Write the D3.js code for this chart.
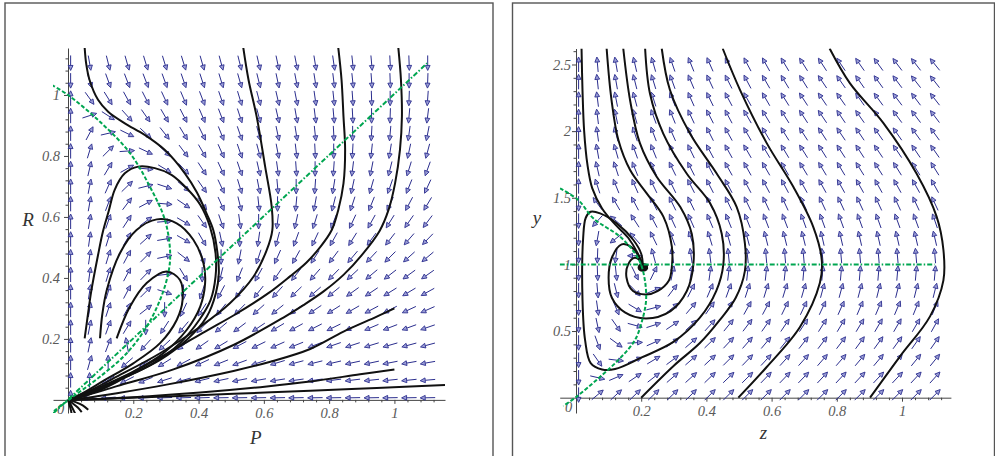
<!DOCTYPE html>
<html>
<head>
<meta charset="utf-8">
<script src="https://cdn.jsdelivr.net/npm/d3@7/dist/d3.min.js"></script>
<style>
  body { margin: 0; background: #fff; }
  text { font-family: "Liberation Serif", "DejaVu Serif", serif; font-style: italic; }
</style>
</head>
<body>
<div id="chart"></div>
<script>
// ---- left panel (P, R) ----
const prP = [0.008, 0.066, 0.123, 0.181, 0.238, 0.296, 0.354, 0.411, 0.469, 0.526,
             0.584, 0.642, 0.699, 0.757, 0.814, 0.872, 0.930, 0.987, 1.045, 1.102];
const prR = [1.105, 1.047, 0.989, 0.932, 0.874, 0.816, 0.758, 0.700, 0.643, 0.585,
             0.527, 0.469, 0.411, 0.354, 0.296, 0.238, 0.180, 0.122, 0.065, 0.007];
// arrow direction in degrees, one row per R value (top to bottom)
const prAngles = [
  [-90,-80,-76,-74,-73,-73,-73,-74,-75,-76,-77,-78,-79,-81,-82,-84,-85,-87,-88,-90],
  [-90,-73,-70,-69,-69,-70,-71,-72,-73,-74,-76,-78,-79,-81,-83,-84,-86,-88,-90,-92],
  [90,-54,-58,-61,-63,-65,-67,-69,-71,-73,-75,-77,-79,-82,-84,-86,-88,-90,-92,-94],
  [90,18,-33,-48,-55,-60,-63,-67,-69,-72,-75,-77,-80,-83,-85,-87,-90,-92,-95,-97],
  [90,62,13,-26,-43,-52,-59,-64,-68,-71,-75,-78,-81,-84,-87,-90,-93,-95,-98,-101],
  [90,73,45,4,-25,-43,-53,-60,-66,-71,-75,-79,-83,-87,-90,-93,-96,-99,-102,-105],
  [90,77,59,29,-5,-31,-47,-57,-65,-71,-77,-82,-86,-90,-94,-97,-101,-104,-107,-110],
  [90,79,66,44,14,-18,-40,-55,-65,-73,-79,-85,-90,-94,-99,-102,-106,-109,-112,-115],
  [90,80,69,53,28,-5,-34,-53,-66,-76,-84,-90,-95,-100,-104,-108,-112,-115,-118,-121],
  [90,81,71,57,37,5,-30,-55,-71,-82,-90,-97,-102,-107,-111,-115,-119,-122,-125,-127],
  [90,82,73,60,42,10,-30,-60,-78,-90,-98,-105,-110,-115,-119,-122,-126,-128,-131,-134],
  [90,82,73,62,45,12,-38,-72,-90,-101,-108,-114,-119,-123,-127,-130,-133,-135,-138,-140],
  [90,82,73,62,46,7,-59,-90,-104,-112,-119,-124,-128,-131,-134,-137,-140,-142,-144,-145],
  [90,81,73,62,45,-18,-90,-108,-118,-124,-128,-132,-136,-139,-141,-144,-146,-148,-149,-151],
  [90,81,72,61,38,-90,-115,-123,-129,-134,-138,-141,-144,-146,-148,-150,-152,-153,-155,-156],
  [90,79,70,59,-90,-123,-130,-135,-140,-143,-146,-149,-151,-153,-154,-156,-157,-159,-160,-161],
  [90,78,69,100,-132,-137,-142,-145,-149,-152,-154,-156,-158,-159,-161,-162,-163,-164,-165,-165],
  [90,74,90,-139,-144,-148,-152,-155,-158,-160,-162,-163,-165,-166,-167,-168,-168,-169,-170,-170],
  [90,90,-146,-153,-158,-162,-164,-166,-168,-169,-170,-171,-172,-172,-173,-173,-174,-174,-174,-175],
  [90,-171,-175,-176,-177,-178,-178,-178,-179,-179,-179,-179,-179,-179,-179,-179,-179,-179,-179,-179]
];
const prCurves = [
  [[0.051,1.155],[0.056,1.1],[0.066,1.049],[0.092,0.984],[0.123,0.945],[0.174,0.907],[0.235,0.869],[0.296,0.82],[0.358,0.743],[0.395,0.68],[0.425,0.61],[0.445,0.557],[0.458,0.481],[0.462,0.415],[0.453,0.35],[0.425,0.273],[0.364,0.197],[0.282,0.131],[0.18,0.076],[0.098,0.032],[0.04,0.01],[0,0]],
  [[0.051,0.202],[0.061,0.28],[0.071,0.355],[0.092,0.475],[0.107,0.552],[0.125,0.62],[0.143,0.689],[0.174,0.743],[0.215,0.765],[0.266,0.76],[0.317,0.738],[0.368,0.689],[0.405,0.64],[0.435,0.568],[0.452,0.481],[0.452,0.404],[0.437,0.328],[0.402,0.262],[0.343,0.186],[0.261,0.12],[0.159,0.066],[0.08,0.027],[0.03,0.008],[0,0]],
  [[0.098,0.202],[0.105,0.28],[0.119,0.361],[0.159,0.481],[0.21,0.557],[0.272,0.592],[0.333,0.579],[0.384,0.525],[0.415,0.448],[0.42,0.383],[0.405,0.306],[0.364,0.23],[0.292,0.153],[0.2,0.093],[0.098,0.042],[0.04,0.013],[0,0]],
  [[0.149,0.202],[0.19,0.306],[0.241,0.383],[0.302,0.421],[0.343,0.393],[0.351,0.328],[0.333,0.262],[0.282,0.186],[0.2,0.12],[0.108,0.062],[0.045,0.022],[0,0]],
  [[0.537,1.155],[0.553,1.05],[0.578,0.929],[0.604,0.765],[0.624,0.634],[0.626,0.557],[0.609,0.492],[0.568,0.404],[0.496,0.317],[0.405,0.24],[0.282,0.153],[0.149,0.076],[0.06,0.027],[0,0]],
  [[0.828,1.155],[0.838,1.05],[0.844,0.929],[0.849,0.82],[0.844,0.71],[0.828,0.623],[0.808,0.557],[0.772,0.5],[0.73,0.45],[0.68,0.405],[0.614,0.35],[0.512,0.28],[0.42,0.224],[0.3,0.15],[0.18,0.08],[0.09,0.035],[0.03,0.01],[0,0]],
  [[1.012,1.155],[1.02,1.05],[1.023,0.929],[1.017,0.82],[1.002,0.71],[0.982,0.623],[0.955,0.555],[0.9,0.475],[0.844,0.41],[0.782,0.355],[0.72,0.31],[0.66,0.27],[0.507,0.18],[0.323,0.1],[0.15,0.045],[0.05,0.013],[0,0]],
  [[1.0,0.3],[0.946,0.273],[0.844,0.224],[0.742,0.167],[0.62,0.125],[0.507,0.095],[0.302,0.05],[0.15,0.022],[0.05,0.006],[0,0]],
  [[1.0,0.1],[0.895,0.084],[0.742,0.06],[0.609,0.044],[0.405,0.024],[0.2,0.009],[0,0]],
  [[1.155,0.049],[0.946,0.039],[0.742,0.03],[0.507,0.02],[0.3,0.011],[0.1,0.003],[0,0]],
  [[0,0],[0.004,-0.015],[0.008,-0.03],[0.011,-0.045]],
  [[0,0],[0.008,-0.015],[0.015,-0.03],[0.022,-0.045]],
  [[0,0],[0.015,-0.012],[0.03,-0.025],[0.042,-0.04]],
  [[0,0],[0.025,-0.008],[0.045,-0.018],[0.062,-0.032]]
];
const prLine = [[-0.045,-0.044],[1.1,1.104]];
const prCurve = [[-0.05,1.033],[0,1.0],[0.098,0.912],[0.19,0.809],[0.251,0.699],[0.297,0.59],[0.313,0.481],[0.307,0.415],[0.282,0.328],[0.241,0.24],[0.18,0.153],[0.098,0.076],[0.016,0.011],[-0.045,-0.038]];
const prTicks = [0.2, 0.4, 0.6, 0.8, 1];

// ---- right panel (z, y) ----
const zyZ = [0.008, 0.066, 0.123, 0.181, 0.238, 0.296, 0.353, 0.411, 0.468, 0.526,
             0.583, 0.641, 0.698, 0.756, 0.813, 0.871, 0.928, 0.986, 1.043, 1.101];
const zyY = [2.5, 2.37, 2.239, 2.109, 1.978, 1.848, 1.717, 1.587, 1.456, 1.326,
             1.195, 1.065, 0.934, 0.804, 0.673, 0.543, 0.412, 0.282, 0.151, 0.021];
const zyAngles = [
  [90,95,100,103,106,109,112,114,116,118,119,121,122,123,124,125,126,127,128,129],
  [90,96,100,104,107,110,113,115,117,118,120,121,122,124,125,125,126,127,128,128],
  [90,97,101,105,108,111,114,116,118,119,120,122,123,124,125,125,126,127,127,128],
  [90,97,102,106,110,112,115,117,118,120,121,122,123,124,124,125,126,126,127,127],
  [90,98,104,108,111,114,116,117,119,120,121,122,123,123,124,124,125,125,126,126],
  [90,100,106,110,112,115,116,118,119,120,121,121,122,122,123,123,124,124,124,125],
  [90,103,108,112,114,116,117,118,119,119,120,120,121,121,121,122,122,122,122,122],
  [90,108,112,114,116,116,117,117,118,118,118,118,119,119,119,119,119,119,119,119],
  [-90,126,120,118,117,116,116,116,116,116,115,115,115,115,115,115,115,115,115,115],
  [-90,-132,140,123,118,115,114,113,112,112,111,111,110,110,110,110,110,110,110,109],
  [-90,-100,-142,132,116,110,108,107,106,105,104,104,104,103,103,103,103,103,103,103],
  [-90,-92,-98,180,105,99,98,97,96,96,95,95,95,95,95,95,95,95,95,95],
  [-90,-88,-84,-64,64,78,81,82,83,84,84,84,85,85,85,85,85,85,85,85],
  [-90,-85,-76,-46,23,53,63,67,70,72,73,73,74,75,75,75,76,76,76,76],
  [-90,-82,-67,-31,15,39,50,55,59,61,62,64,65,65,66,67,67,67,68,68],
  [-90,-78,-55,-15,18,34,43,48,51,53,55,56,57,58,59,59,60,60,60,61],
  [-90,-70,-36,3,24,35,41,44,47,49,50,51,52,53,53,54,54,54,55,55],
  [-90,-55,-7,20,31,37,41,43,45,46,47,48,48,49,49,50,50,50,51,51],
  [-90,-13,23,34,38,41,42,44,44,45,46,46,46,47,47,47,47,47,47,48],
  [-90,40,43,44,44,44,45,45,45,45,45,45,45,45,45,45,45,45,45,45]
];
const zyCurves = [
  [[0.205,0.99],[0.19,1.08],[0.16,1.2],[0.12,1.3],[0.08,1.42],[0.05,1.57],[0.035,1.75],[0.025,2.0],[0.02,2.3],[0.017,2.62]],
  [[0.205,0.99],[0.2,1.02],[0.18,1.05],[0.16,1.0],[0.155,0.9],[0.175,0.8],[0.215,0.775],[0.25,0.8],[0.285,0.88],[0.294,0.983],[0.294,1.133],[0.268,1.358],[0.217,1.533],[0.166,1.708],[0.13,1.933],[0.109,2.233],[0.094,2.62]],
  [[0.205,0.99],[0.195,1.05],[0.17,1.13],[0.14,1.15],[0.11,1.05],[0.1,0.9],[0.11,0.75],[0.15,0.64],[0.215,0.595],[0.29,0.65],[0.34,0.8],[0.36,1.0],[0.355,1.23],[0.32,1.43],[0.247,1.66],[0.196,1.91],[0.166,2.23],[0.145,2.62]],
  [[0.205,0.99],[0.2,1.08],[0.176,1.183],[0.125,1.308],[0.074,1.383],[0.045,1.395],[0.03,1.35],[0.022,1.2],[0.02,0.73],[0.028,0.43],[0.045,0.26],[0.08,0.212],[0.12,0.215],[0.2,0.3],[0.3,0.42],[0.38,0.6],[0.43,0.8],[0.452,1.0],[0.447,1.23],[0.411,1.46],[0.34,1.68],[0.268,1.98],[0.227,2.28],[0.212,2.62]],
  [[0.2,0.0],[0.3,0.24],[0.38,0.41],[0.44,0.58],[0.49,0.75],[0.518,0.95],[0.518,1.16],[0.493,1.43],[0.432,1.68],[0.35,1.98],[0.288,2.31],[0.263,2.62]],
  [[0.498,0.0],[0.585,0.23],[0.687,0.53],[0.748,0.86],[0.754,1.03],[0.728,1.28],[0.667,1.58],[0.585,1.91],[0.503,2.31],[0.45,2.62]],
  [[0.902,0.0],[0.994,0.31],[1.086,0.61],[1.127,0.88],[1.127,1.11],[1.106,1.36],[1.045,1.68],[0.943,2.06],[0.84,2.36],[0.778,2.62]],
  [[0.207,0.975],[0.21,0.972],[0.207,0.967],[0.203,0.972],[0.205,0.98],[0.211,0.982],[0.214,0.972],[0.21,0.962],[0.202,0.962],[0.198,0.972],[0.2,0.987],[0.21,0.992],[0.218,0.98],[0.216,0.962],[0.206,0.953],[0.196,0.958],[0.192,0.975],[0.196,0.995],[0.21,1.002],[0.222,0.99]]
];
const zyLine = [[-0.05,1.0],[1.1,1.0]];
const zyCurve = [[-0.049,1.571],[0.007,1.483],[0.053,1.346],[0.135,1.208],[0.181,1.083],[0.2,0.995],[0.212,0.87],[0.215,0.733],[0.206,0.608],[0.181,0.433],[0.13,0.283],[0.063,0.133],[0.002,0.008],[-0.039,-0.062]];
const zyXTicks = [0.2, 0.4, 0.6, 0.8, 1];
const zyYTicks = [0.5, 1, 1.5, 2, 2.5];

const W = 995, H = 456;
const svg = d3.select("#chart").append("svg")
    .attr("width", W)
    .attr("height", H);

const arrowColor = "#2b2e8e";
const green = "#00a651";
const fmt = d3.format("~g");

function drawPanel(p) {
  var x = d3.scaleLinear().domain(p.xDomain).range(p.xRange);
  var y = d3.scaleLinear().domain(p.yDomain).range(p.yRange);

  // frame
  svg.append("rect")
      .attr("x", p.frame[0]).attr("y", p.frame[1])
      .attr("width", p.frame[2]).attr("height", p.frame[3])
      .attr("fill", "none").attr("stroke", "#555").attr("stroke-width", 1.4);

  var g = svg.append("g");

  // axes through the origin
  g.append("g")
      .attr("transform", "translate(0," + y(0) + ")")
      .call(d3.axisBottom(x).tickValues(p.xTicks).tickFormat(fmt).tickSize(4).tickSizeOuter(0).tickPadding(4));
  g.append("g")
      .attr("transform", "translate(0," + y(0) + ")")
      .call(d3.axisBottom(x).tickValues(p.xMinor).tickFormat("").tickSize(2.5).tickSizeOuter(0))
      .select(".domain").remove();
  g.append("g")
      .attr("transform", "translate(" + x(0) + ",0)")
      .call(d3.axisLeft(y).tickValues(p.yTicks).tickFormat(fmt).tickSize(4).tickSizeOuter(0).tickPadding(p.yPad));
  g.append("g")
      .attr("transform", "translate(" + x(0) + ",0)")
      .call(d3.axisLeft(y).tickValues(p.yMinor).tickFormat("").tickSize(2.5).tickSizeOuter(0))
      .select(".domain").remove();
  g.selectAll(".domain").attr("stroke", "#444");
  g.selectAll(".tick line").attr("stroke", "#444");
  g.selectAll(".tick text")
      .attr("fill", "#5a5a5a")
      .style("font-family", "'Liberation Serif', serif")
      .style("font-style", "italic")
      .style("font-size", "14.5px");

  g.append("text")
      .attr("x", x(0) - 11).attr("y", y(0) + 14)
      .attr("fill", "#5a5a5a").attr("font-size", 14.5)
      .text("0");

  // axis titles
  g.append("text")
      .attr("x", x(p.xLabelAt)).attr("y", p.xLabelY)
      .attr("text-anchor", "middle").attr("fill", "#333").attr("font-size", 19)
      .text(p.xLabel);
  g.append("text")
      .attr("x", p.yLabelX).attr("y", y(p.yLabelAt))
      .attr("text-anchor", "middle").attr("fill", "#333").attr("font-size", 19)
      .text(p.yLabel);

  // clip to the view
  var clipId = "clip" + p.id;
  svg.append("clipPath").attr("id", clipId)
    .append("rect")
      .attr("x", p.xRange[0]).attr("y", p.yRange[1])
      .attr("width", p.xRange[1] - p.xRange[0])
      .attr("height", p.yRange[0] - p.yRange[1]);
  var plot = svg.append("g").attr("clip-path", "url(#" + clipId + ")");

  // direction field
  var cells = [];
  p.angles.forEach(function(row, j) {
    row.forEach(function(a, k) {
      cells.push({ cx: x(p.gx[k]), cy: y(p.gy[j]), a: a });
    });
  });
  var L = 15, hl = 5, hw = 2.4;
  var arrows = plot.append("g").selectAll("g")
      .data(cells)
    .join("g");
  arrows.append("line")
      .attr("x1", function(d) { return d.cx - Math.cos(d.a * Math.PI / 180) * L / 2; })
      .attr("y1", function(d) { return d.cy + Math.sin(d.a * Math.PI / 180) * L / 2; })
      .attr("x2", function(d) { return d.cx + Math.cos(d.a * Math.PI / 180) * (L / 2 - hl); })
      .attr("y2", function(d) { return d.cy - Math.sin(d.a * Math.PI / 180) * (L / 2 - hl); })
      .attr("stroke", arrowColor).attr("stroke-width", 1);
  arrows.append("path")
      .attr("d", function(d) {
        var ux = Math.cos(d.a * Math.PI / 180), uy = -Math.sin(d.a * Math.PI / 180);
        var tx = d.cx + ux * L / 2, ty = d.cy + uy * L / 2;
        var bx = tx - ux * hl, by = ty - uy * hl;
        return "M" + tx + "," + ty +
               "L" + (bx - uy * hw) + "," + (by + ux * hw) +
               "L" + (bx + uy * hw) + "," + (by - ux * hw) + "Z";
      })
      .attr("fill", "#9a9dd6").attr("stroke", arrowColor).attr("stroke-width", 0.9);

  var line = d3.line()
      .x(function(d) { return x(d[0]); })
      .y(function(d) { return y(d[1]); })
      .curve(d3.curveCatmullRom.alpha(0.5));

  // solution curves
  plot.append("g").selectAll("path")
      .data(p.curves)
    .join("path")
      .attr("d", line)
      .attr("fill", "none")
      .attr("stroke", "#111")
      .attr("stroke-width", 2);

  // nullclines
  plot.append("path")
      .attr("d", line(p.nullLine))
      .attr("fill", "none").attr("stroke", green).attr("stroke-width", 2)
      .attr("stroke-dasharray", "5,2,1.5,2");
  plot.append("path")
      .attr("d", line(p.nullCurve))
      .attr("fill", "none").attr("stroke", green).attr("stroke-width", 2)
      .attr("stroke-dasharray", "4,2");
}

function minor(lo, hi, step, majors) {
  var out = [];
  for (var v = lo; v <= hi + 1e-9; v += step) {
    var r = Math.round(v * 1000) / 1000;
    if (majors.indexOf(r) < 0) out.push(r);
  }
  return out;
}

drawPanel({
  id: "L",
  xDomain: [-0.046, 1.155], xRange: [53, 445],
  yDomain: [-0.043, 1.154], yRange: [413, 48],
  frame: [5, 3, 488, 470],
  xTicks: prTicks, yTicks: prTicks,
  xMinor: minor(0.04, 1.12, 0.04, prTicks), yMinor: minor(0.04, 1.12, 0.04, prTicks),
  yPad: 4,
  gx: prP, gy: prR, angles: prAngles,
  curves: prCurves, nullLine: prLine, nullCurve: prCurve,
  xLabel: "P", xLabelAt: 0.575, xLabelY: 444,
  yLabel: "R", yLabelX: 28, yLabelAt: 0.57
});

drawPanel({
  id: "R",
  xDomain: [-0.05, 1.15], xRange: [559.7, 950.9],
  yDomain: [-0.115, 2.62], yRange: [413, 48.5],
  frame: [512.5, 3, 482, 470],
  xTicks: zyXTicks, yTicks: zyYTicks,
  xMinor: minor(0.04, 1.12, 0.04, zyXTicks), yMinor: minor(0.1, 2.6, 0.1, zyYTicks),
  yPad: 1,
  gx: zyZ, gy: zyY, angles: zyAngles,
  curves: zyCurves, nullLine: zyLine, nullCurve: zyCurve,
  xLabel: "z", xLabelAt: 0.575, xLabelY: 439,
  yLabel: "y", yLabelX: 537, yLabelAt: 1.3
});
</script>
</body>
</html>
